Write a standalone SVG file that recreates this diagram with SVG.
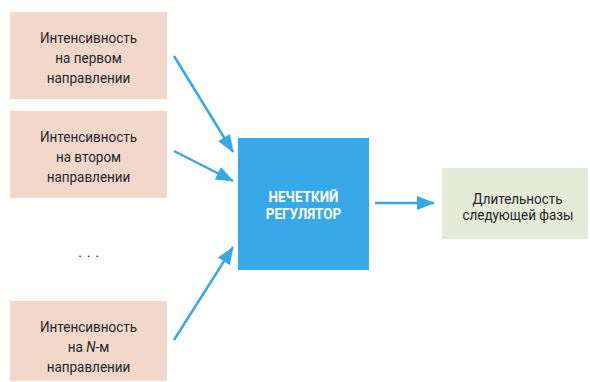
<svg xmlns="http://www.w3.org/2000/svg" width="590" height="382" viewBox="0 0 590 382">
<defs>
<style>
.in{fill:#f2d8ca}
.t{font-family:"Roboto","Liberation Sans",sans-serif;font-size:15.5px;fill:#262626;text-anchor:middle}
.g{font-family:"Roboto","Liberation Sans",sans-serif;font-size:14.3px;fill:#262626;text-anchor:middle}
.w{font-family:"Roboto","Liberation Sans",sans-serif;font-size:15.5px;font-weight:bold;fill:#ffffff;text-anchor:middle}
.c{stroke:#36a8e8;stroke-width:2.5;fill:none;marker-end:url(#ah)}
</style>
<marker id="ah" viewBox="0 0 18 14" refX="17" refY="7" markerWidth="18" markerHeight="14" markerUnits="userSpaceOnUse" orient="auto">
<path d="M0,0 L18,7 L0,14 Z" fill="#36a8e8"/>
</marker>
</defs>
<rect width="590" height="382" fill="#ffffff"/>
<g id="in1">
<rect class="in" x="10" y="12" width="157" height="87"/>
<text class="t" transform="translate(88.5,43) scale(0.87,1)">Интенсивность</text>
<text class="t" transform="translate(88.5,63) scale(0.87,1)">на первом</text>
<text class="t" transform="translate(88.5,83) scale(0.87,1)">направлении</text>
</g>
<g id="in2">
<rect class="in" x="10" y="111" width="157" height="87"/>
<text class="t" transform="translate(88.5,142) scale(0.87,1)">Интенсивность</text>
<text class="t" transform="translate(88.5,162) scale(0.87,1)">на втором</text>
<text class="t" transform="translate(88.5,182) scale(0.87,1)">направлении</text>
</g>
<g id="dots">
<text class="t" x="91" y="257" style="letter-spacing:4.6px">...</text>
</g>
<g id="inN">
<rect class="in" x="10" y="301" width="157" height="80"/>
<text class="t" transform="translate(88.5,332) scale(0.87,1)">Интенсивность</text>
<text class="t" transform="translate(88.5,352) scale(0.87,1)">на <tspan font-style="italic">N</tspan>-м</text>
<text class="t" transform="translate(88.5,372) scale(0.87,1)">направлении</text>
</g>
<g id="reg">
<rect x="238" y="138" width="131" height="132" fill="#37a8e8"/>
<text class="w" transform="translate(303.5,202) scale(0.87,1)">НЕЧЕТКИЙ</text>
<text class="w" transform="translate(303.5,219) scale(0.87,1)">РЕГУЛЯТОР</text>
</g>
<g id="out">
<rect x="442" y="168" width="146" height="71" fill="#e4ebd8"/>
<text class="g" transform="translate(517.5,203.5) scale(0.94,1)">Длительность</text>
<text class="g" transform="translate(518,220) scale(0.94,1)">следующей фазы</text>
</g>
<g id="connectors">
<line class="c" x1="174" y1="56" x2="233" y2="152"/>
<line class="c" x1="174" y1="151" x2="233" y2="181"/>
<line class="c" x1="174" y1="340" x2="233" y2="247"/>
<line class="c" x1="375" y1="203" x2="434" y2="203"/>
</g>
</svg>
